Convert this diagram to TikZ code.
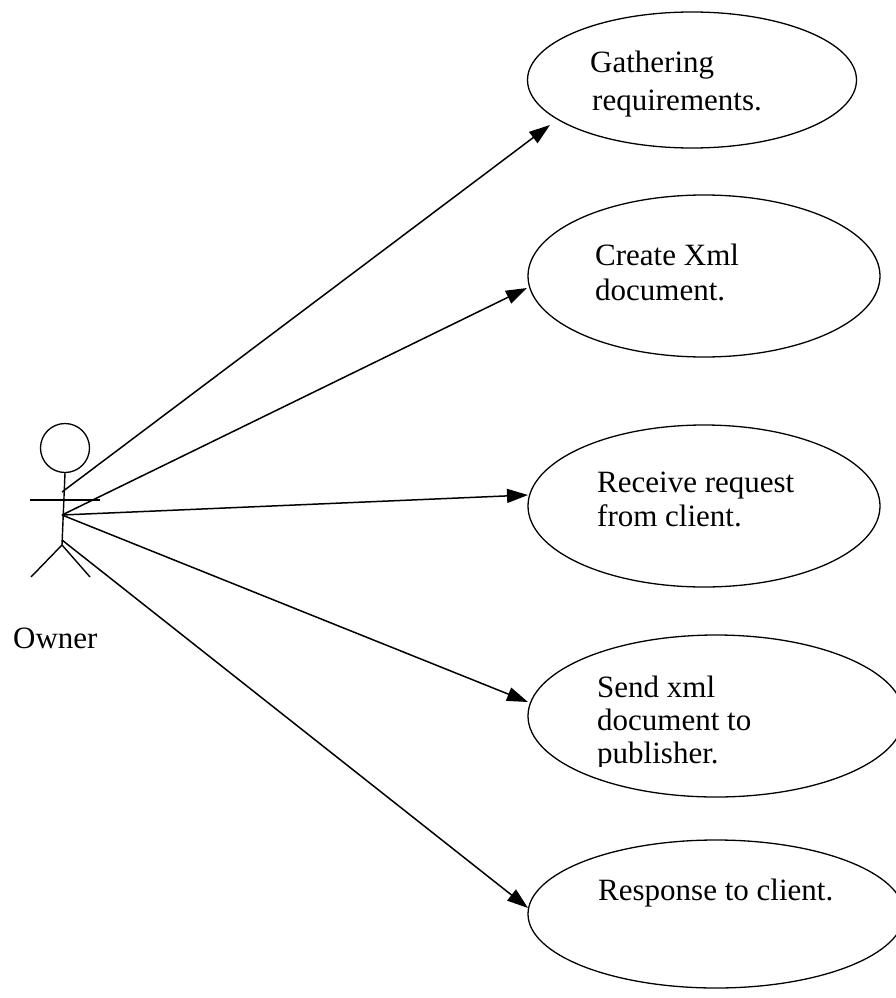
\documentclass[tikz,border=0pt]{standalone}
\usepackage{fontspec}
\setmainfont{Liberation Serif}
\usetikzlibrary{shapes.geometric,arrows.meta}
\begin{document}
\begin{tikzpicture}[x=1pt,y=-1pt,
  usecase/.style={draw,ellipse,line width=1.3pt,inner sep=0pt},
  txt/.style={font=\fontsize{31}{37}\selectfont,anchor=base west,inner sep=0pt},
  conn/.style={line width=1.5pt,-{Triangle[length=21pt,width=14pt]}},
  limb/.style={line width=1.4pt}]
\useasboundingbox (0,0) rectangle (896,998);
\clip (0,0) rectangle (896,998);

% actor: stick figure
\node[draw,circle,line width=1.3pt,minimum size=49pt,inner sep=0pt] (head) at (65,448) {};
\coordinate (hip) at (62,545);
\draw[limb] (head.south) -- (hip);
\coordinate (armL) at (30,500);
\coordinate (armR) at (100,500);
\draw[line width=1.1pt] (armL) -- (armR);
\coordinate (footL) at (31,577);
\coordinate (footR) at (90,577);
\draw[limb] (footL) -- (hip) -- (footR);
\node[txt] (owner) at (13,648) {Owner};

% connector start points on the actor
\coordinate (s1) at (62,492);
\coordinate (s0) at (62,515);
\coordinate (s5) at (62,540);

% use cases
\node[usecase,minimum width=329pt,minimum height=136pt] (uc1) at (692,80) {};
\node[usecase,minimum width=352pt,minimum height=162pt] (uc2) at (704,276) {};
\node[usecase,minimum width=352pt,minimum height=162pt] (uc3) at (704,506) {};
\node[usecase,minimum width=376pt,minimum height=162pt] (uc4) at (716,716) {};
\node[usecase,minimum width=376pt,minimum height=148pt] (uc5) at (716,914) {};

\node[txt] (t1a) at (590,72) {Gathering};
\node[txt] (t1b) at (592,110) {requirements.};
\node[txt] (t2a) at (595,265) {Create Xml};
\node[txt] (t2b) at (595,300) {document.};
\node[txt] (t3a) at (597,492) {Receive request};
\node[txt] (t3b) at (597,526) {from client.};
\begin{scope}
  % the last line is cut off just below its baseline
  \clip (580,600) rectangle (860,766);
  \node[txt] (t4a) at (597,697) {Send xml};
  \node[txt] (t4b) at (597,730) {document to};
  \node[txt] (t4c) at (597,763) {publisher.};
\end{scope}
\node[txt] (t5a) at (598,900) {Response to client.};

% arrow tips at the use case borders
\coordinate (p1) at (550,125);
\coordinate (p2) at (527,288);
\coordinate (p3) at (528,495);
\coordinate (p4) at (528,702);
\coordinate (p5) at (528,908);

\draw[conn] (s1) -- (p1);
\draw[conn] (s0) -- (p2);
\draw[conn] (s0) -- (p3);
\draw[conn] (s0) -- (p4);
\draw[conn] (s5) -- (p5);
\end{tikzpicture}
\end{document}
